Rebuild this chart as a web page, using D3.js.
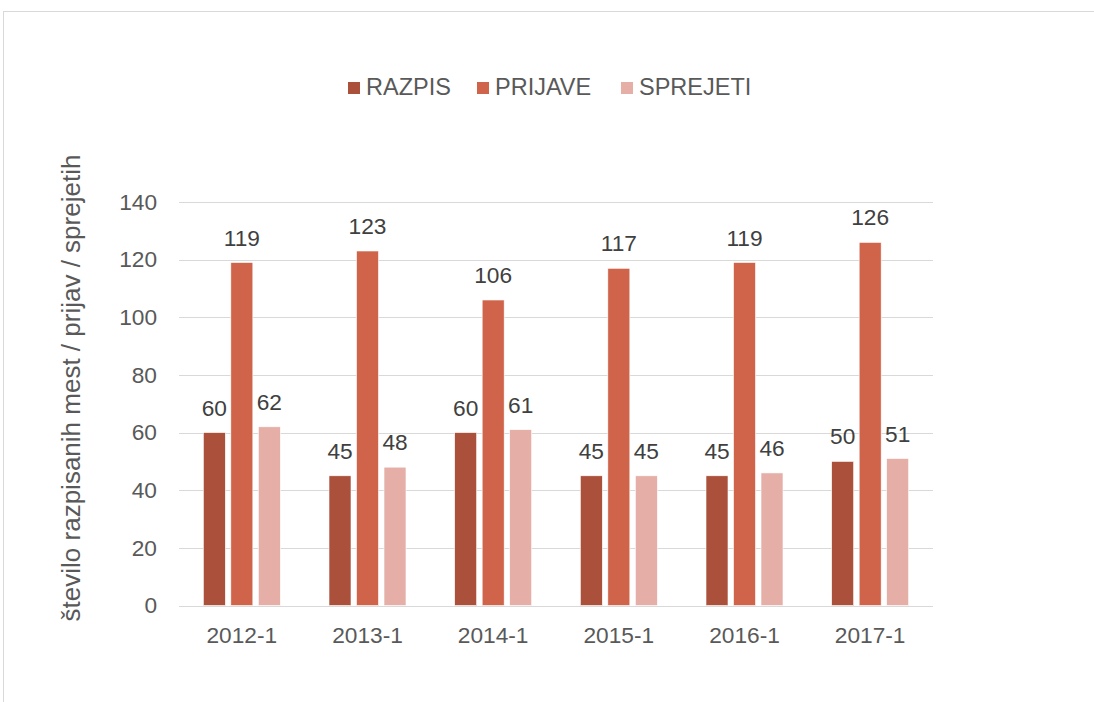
<!DOCTYPE html>
<html><head><meta charset="utf-8">
<script src="https://cdn.jsdelivr.net/npm/d3@7"></script>
<style>body{margin:0;background:#fff}svg{display:block}text{font-family:"Liberation Sans",Arial,sans-serif}</style>
</head><body>
<svg id="c" width="1094" height="702"></svg>
<script>
const categories = ["2012-1","2013-1","2014-1","2015-1","2016-1","2017-1"];
const seriesNames = ["RAZPIS","PRIJAVE","SPREJETI"];
const razpis = [60,45,60,45,45,50];
const prijave = [119,123,106,117,119,126];
const sprejeti = [62,48,61,45,46,51];
const yTicks = [0,20,40,60,80,100,120,140];
const colors = ["#AA503B","#D0644A","#E5AFA8"];
const yTitle = "število razpisanih mest / prijav / sprejetih";

(function(){
const series = [razpis, prijave, sprejeti];
const svg = d3.select("#c");
const FS = "22.7px";

// frame
svg.append("rect").attr("x",3.5).attr("y",11.5).attr("width",1200).attr("height",800)
  .attr("fill","none").attr("stroke","#d9d9d9").attr("stroke-width",1);

const pLeft = 179, pRight = 933, pTop = 202, pBottom = 605.5;
const x = d3.scaleBand().domain(categories).range([pLeft,pRight]).paddingInner(0).paddingOuter(0);
const y = d3.scaleLinear().domain([0,140]).range([pBottom,pTop]);
const barW = 22, gap = 5.5;
const groupW = 3*barW + 2*gap;
const xs = d3.scaleBand().domain(seriesNames).range([0, groupW]).paddingInner(gap/(barW+gap)).paddingOuter(0);

// gridlines
svg.append("g").selectAll("line").data(yTicks).join("line")
  .attr("x1",pLeft).attr("x2",pRight)
  .attr("y1",d=>Math.round(y(d))+0.5).attr("y2",d=>Math.round(y(d))+0.5)
  .attr("stroke","#d9d9d9").attr("stroke-width",1);

// y axis labels
const yAxis = d3.axisLeft(y).tickValues(yTicks).tickSize(0).tickPadding(0);
const ya = svg.append("g").attr("transform",`translate(${pLeft-22},0)`).call(yAxis);
ya.select(".domain").remove();
ya.selectAll("text").attr("font-size",FS).attr("fill","#595959").attr("font-family","Liberation Sans, Arial, sans-serif");

// x axis labels
const xAxis = d3.axisBottom(x).tickSize(0).tickPadding(0);
const xa = svg.append("g").attr("transform",`translate(0,${pBottom})`).call(xAxis);
xa.select(".domain").remove();
xa.selectAll("text").attr("y",37.5).attr("dy",null).attr("font-size",FS).attr("fill","#595959").attr("font-family","Liberation Sans, Arial, sans-serif");

// bars
series.forEach((vals, si) => {
  const g = svg.append("g");
  g.selectAll("rect").data(vals).join("rect")
    .attr("x",(d,i)=>x(categories[i]) + x.bandwidth()/2 - groupW/2 + xs(seriesNames[si]))
    .attr("y",d=>y(d)).attr("width",xs.bandwidth()).attr("height",d=>y(0)-y(d))
    .attr("fill",colors[si]).attr("stroke","#fff").attr("stroke-width",0.6);
  g.selectAll("text").data(vals).join("text")
    .attr("x",(d,i)=>x(categories[i]) + x.bandwidth()/2 - groupW/2 + xs(seriesNames[si]) + xs.bandwidth()/2)
    .attr("y",d=>y(d)-17)
    .attr("text-anchor","middle").attr("font-size",FS).attr("fill","#404040")
    .text(d=>d);
});

// y title
svg.append("text").attr("transform",`translate(80,388) rotate(-90)`)
  .attr("text-anchor","middle").attr("font-size","26px").attr("fill","#595959").text(yTitle);

// legend
const legX = [348, 477, 621];
const lg = svg.append("g");
seriesNames.forEach((n,i)=>{
  lg.append("rect").attr("x",legX[i]).attr("y",82).attr("width",12).attr("height",12).attr("fill",colors[i]);
  lg.append("text").attr("x",legX[i]+18).attr("y",95).attr("font-size","23.5px").attr("fill","#595959").text(n);
});
})();
</script>
</body></html>
